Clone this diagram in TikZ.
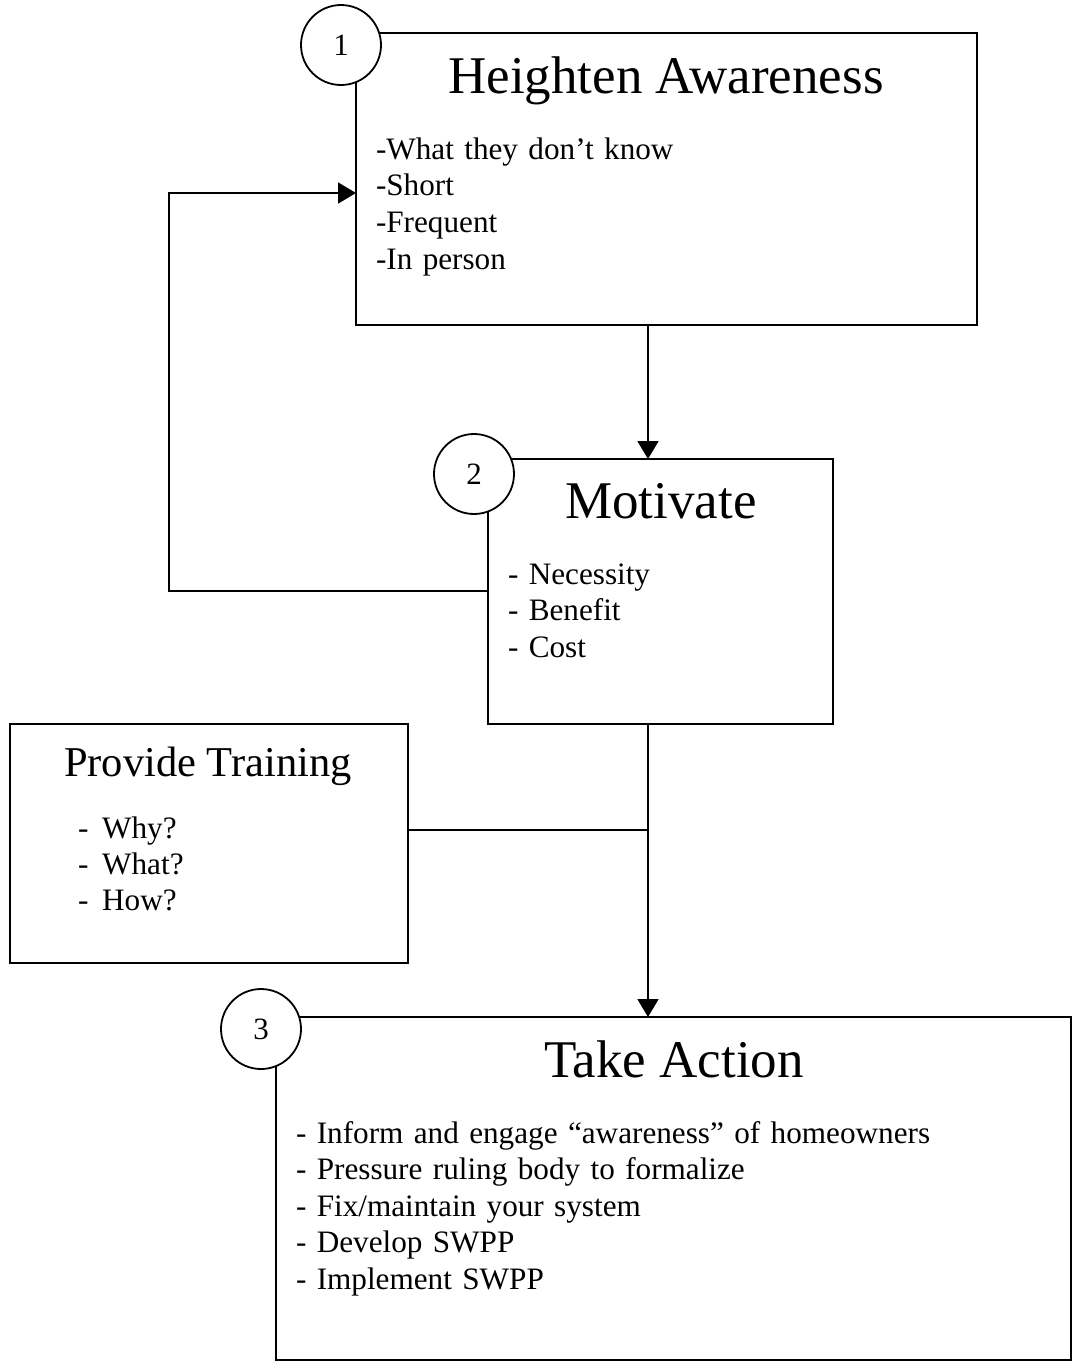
\documentclass[tikz,border=0pt]{standalone}
\usepackage{fontspec}
\setmainfont{Liberation Serif}
\usetikzlibrary{arrows.meta}
\begin{document}
\begin{tikzpicture}[x=0.5pt,y=-0.5pt,
  every node/.style={inner sep=0pt, outer sep=0pt},
  box/.style={draw, line width=0.9pt, rectangle, anchor=north west, fill=white},
  numcirc/.style={draw, circle, line width=0.9pt, fill=white, minimum size=40pt,
    font=\fontsize{15.5}{18}\selectfont},
  title/.style={anchor=base, font=\fontsize{26.5}{30}\selectfont},
  subtitle/.style={anchor=base, font=\fontsize{21.25}{25}\selectfont},
  items/.style={anchor=base west, align=left, text width=450pt,
    font=\fontsize{15.6}{18.4}\selectfont},
  conn/.style={line width=0.9pt},
  arr/.style={conn, -{Triangle[length=9pt, width=10.5pt]}}
]
\useasboundingbox (0,0) rectangle (1073,1362);

% boxes
\node[box, minimum width=310.5pt, minimum height=146pt] (b1) at (356,33) {};
\node[box, minimum width=172.5pt, minimum height=132.5pt] (b2) at (488,459) {};
\node[box, minimum width=199pt, minimum height=119.5pt] (pt) at (10,724) {};
\node[box, minimum width=397.5pt, minimum height=171.5pt] (b3) at (276,1017) {};

% number circles
\node[numcirc] (c1) at (341,45) {1};
\node[numcirc] (c2) at (474,474) {2};
\node[numcirc] (c3) at (261,1029) {3};

% titles
\node[title] (t1) at (666,93) {Heighten Awareness};
\node[title] (t2) at (661,518) {Motivate};
\node[title] (t3) at (674,1077) {Take Action};
\node[subtitle] (t4) at (208,776) {Provide Training};

% lists
\node[items] (l1) at (376,159) {-What they don’t know\\-Short\\-Frequent\\-In person};
\node[items] (l2) at (508,584) {- Necessity\\- Benefit\\- Cost};
\node[items, font=\fontsize{15.6}{18.2}\selectfont] (l4) at (78,838)
  {-\hspace{6.9pt}Why?\\-\hspace{6.9pt}What?\\-\hspace{6.9pt}How?};
\node[items, font=\fontsize{15.6}{18.25}\selectfont] (l3) at (296,1143)
  {- Inform and engage “awareness” of homeowners\\- Pressure ruling body to formalize\\- Fix/maintain your system\\- Develop SWPP\\- Implement SWPP};

% connectors
\coordinate (j) at (648,830);
\coordinate (fa) at (169,591);
\coordinate (fb) at (169,193);
\draw[arr] (b1.south -| j) -- (b2.north -| j);
\draw[arr] (b2.south -| j) -- (b3.north -| j);
\draw[conn] (pt.east |- j) -- (j);
\draw[arr] (b2.west |- fa) -- (fa) -- (fb) -- (b1.west |- fb);
\end{tikzpicture}
\end{document}
